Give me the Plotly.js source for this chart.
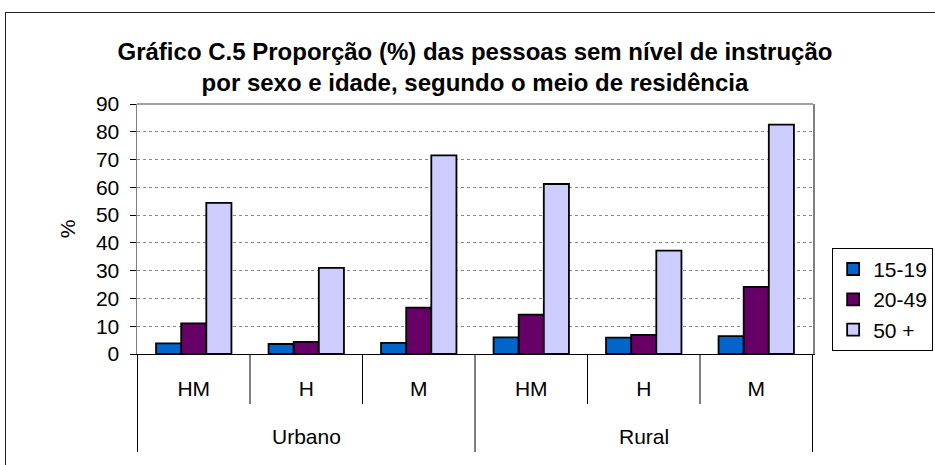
<!DOCTYPE html>
<html>
<head>
<meta charset="utf-8">
<script src="https://cdn.plot.ly/plotly-3.0.1.min.js"></script>
<style>
html,body{margin:0;padding:0;background:#fff;}
#wrap{position:relative;width:935px;height:465px;overflow:hidden;}
#frame{position:absolute;left:5px;top:12px;width:940px;height:470px;border:1px solid #222;box-sizing:border-box;pointer-events:none;}
#chart{position:absolute;left:0;top:0;width:935px;height:465px;}
</style>
</head>
<body>
<div id="wrap"><div id="chart"></div><div id="frame"></div></div>
<script>
const residence = ["Urbano","Urbano","Urbano","Rural","Rural","Rural"];
const sexo = ["HM","H","M","HM","H","M"];
const seriesNames = ["15-19","20-49","50 +"];
const v15_19 = [3.8, 3.6, 4.0, 6.0, 5.9, 6.4];
const v20_49 = [11.0, 4.4, 16.7, 14.2, 6.9, 24.2];
const v50 = [54.4, 31.0, 71.5, 61.2, 37.2, 82.6];
const yTicks = [0,10,20,30,40,50,60,70,80,90];
const colors = ["#0066CC","#660066","#CCCCFF"];

const keys = residence.map((r,i)=>r+" "+sexo[i]);
const allVals = [v15_19, v20_49, v50];
const traces = allVals.map((v,i)=>({
  type:"bar",
  name: seriesNames[i],
  x:keys,
  y:v,
  marker:{color:colors[i], line:{color:"#000", width:1.8}},
  hoverinfo:"y"
}));

const fam = "Liberation Sans, Arial, sans-serif";
const f = (s)=>({family:fam, color:"#000", size:s});

// category boundaries and group labels derived from the data arrays
const shapes = [];
const annotations = [];
for (let i=0;i<=keys.length;i++){
  const isGroupEdge = (i===0 || i===keys.length || residence[i]!==residence[i-1]);
  shapes.push({type:"line", xref:"x", yref:"paper", x0:i-0.5, x1:i-0.5, y0:0, y1:isGroupEdge?-0.392:-0.2,
    line:{color:"#000", width:1}});
}
const groups = [...new Set(residence)];
groups.forEach(g=>{
  const idx = residence.map((r,i)=>r===g?i:-1).filter(i=>i>=0);
  const mid = (idx[0]+idx[idx.length-1])/2;
  annotations.push({x:mid, xref:"x", y:-0.328, yref:"paper", text:g, showarrow:false,
    font:f(21), xanchor:"center", yanchor:"middle"});
});
shapes.push({type:"line", xref:"paper", yref:"paper", x0:0, x1:1, y0:1, y1:1, line:{color:"#808080", width:1.5}});

const layout = {
  width:935, height:465,
  margin:{l:137, r:122, t:104, b:111},
  paper_bgcolor:"#fff", plot_bgcolor:"#fff",
  barmode:"group", bargap:0.33, bargroupgap:0,
  font:f(21),
  title:{
    text:"<b>Gráfico C.5 Proporção (%) das pessoas sem nível de instrução<br>por sexo e idade, segundo o meio de residência</b>",
    font:f(24),
    x:0.508, xanchor:"center", xref:"container", y:0.872, yref:"container", yanchor:"top"
  },
  xaxis:{
    type:"category",
    tickvals:keys, ticktext:sexo,
    showline:true, linecolor:"#000", linewidth:1,
    ticks:"", ticklabelstandoff:16,
    tickfont:f(21),
    showgrid:false
  },
  yaxis:{
    range:[0,90], tickvals:yTicks, ticktext:yTicks.map(String),
    showline:true, linecolor:"#808080", linewidth:1.5, mirror:true,
    ticks:"outside", ticklen:6, tickcolor:"#000",
    showgrid:true, gridcolor:"#888", griddash:"dot", gridwidth:1,
    tickfont:f(21), ticklabelstandoff:6,
    title:{text:"%", font:f(21), standoff:14},
    zeroline:false
  },
  legend:{
    xref:"container", yref:"container",
    x:0.89, xanchor:"left", y:0.467, yanchor:"top",
    bordercolor:"#000", borderwidth:1, bgcolor:"#fff",
    font:f(21),
    tracegroupgap:0
  },
  shapes:shapes,
  annotations:annotations,
  showlegend:true
};
Plotly.newPlot("chart", traces, layout, {displayModeBar:false, staticPlot:true});
</script>
</body>
</html>
